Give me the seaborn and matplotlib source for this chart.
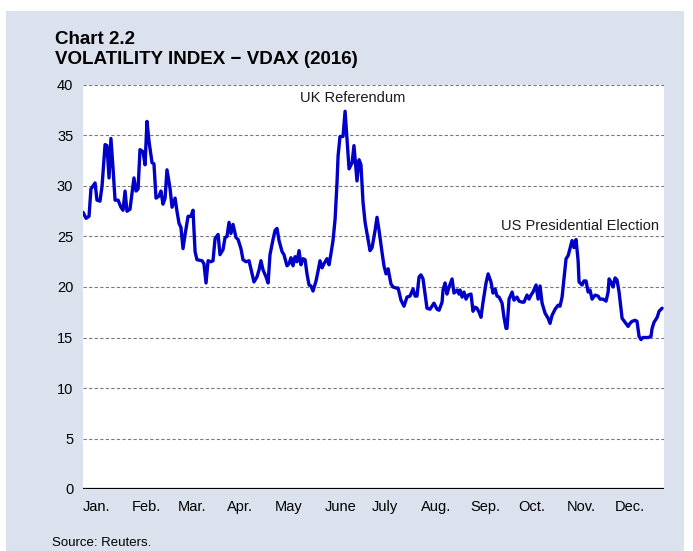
import matplotlib
matplotlib.use("Agg")
import matplotlib.pyplot as plt
import matplotlib.patches as mpatches
import seaborn as sns
import pandas as pd

# ---- data (day of year 2016, VDAX level) ----
days = [0.0, 1.9, 3.8, 5.0, 7.6, 8.8, 10.7, 12.0, 13.9, 15.1, 16.4, 17.6, 18.9, 20.2, 22.1,
        23.9, 25.2, 26.5, 27.7, 29.6, 32.1, 33.4, 34.7, 35.9, 37.8, 39.1, 40.3, 41.6, 43.5,
        44.7, 46.0, 47.9, 49.1, 50.4, 51.7, 52.9, 54.8, 56.1, 58.0, 59.2, 60.5, 61.7, 63.0,
        64.3, 66.2, 68.0, 69.3, 70.6, 71.8, 75.0, 76.2, 77.5, 78.8, 80.6, 81.9, 83.2, 85.1,
        86.3, 88.2, 89.5, 90.7, 92.0, 93.2, 94.5, 96.4, 97.7, 99.5, 100.8, 102.7, 104.6,
        106.5, 107.7, 109.6, 110.9, 112.1, 113.4, 115.3, 116.6, 117.8, 119.7, 121.0, 122.2,
        123.5, 125.4, 126.6, 128.5, 129.8, 131.0, 132.3, 133.6, 134.8, 136.1, 137.3, 138.6,
        139.9, 141.1, 142.4, 143.6, 144.9, 146.8, 148.1, 149.3, 150.6, 151.8, 153.7, 155.0,
        156.2, 157.5, 158.8, 160.0, 160.7, 161.9, 163.8, 165.1, 166.3, 167.6, 169.5, 170.7,
        172.6, 173.9, 175.1, 176.4, 177.7, 179.6, 180.8, 182.1, 184.0, 185.2, 186.5, 188.4,
        189.6, 190.9, 192.2, 194.0, 195.3, 197.2, 198.5, 200.3, 202.2, 204.1, 206.0, 207.9,
        209.2, 210.4, 211.7, 212.9, 214.2, 215.5, 216.7, 218.6, 221.1, 223.0, 224.3, 226.2,
        226.8, 228.1, 229.3, 230.6, 232.5, 233.7, 235.6, 236.9, 237.5, 238.8, 240.0, 241.3,
        242.6, 244.4, 245.7, 247.0, 248.2, 249.5, 250.7, 252.0, 253.9, 255.2, 257.0, 258.3,
        259.6, 260.8, 262.1, 264.0, 265.2, 266.5, 267.1, 268.4, 270.3, 271.5, 273.4, 274.7,
        276.6, 277.8, 279.7, 281.0, 282.2, 283.5, 285.4, 286.7, 287.9, 289.2, 291.1, 293.0,
        294.2, 295.5, 297.4, 299.3, 300.5, 301.8, 303.0, 304.3, 305.6, 306.8, 308.1, 309.3,
        310.6, 311.9, 312.5, 314.4, 315.6, 316.9, 318.2, 319.4, 320.7, 322.6, 324.5, 325.7,
        327.6, 329.5, 330.8, 331.4, 332.6, 333.9, 335.2, 336.4, 337.7, 338.9, 339.6, 341.5,
        343.4, 344.6, 345.9, 347.8, 349.0, 350.3, 351.5, 352.8, 354.7, 356.0, 357.8, 358.5,
        359.7, 361.7, 362.9, 364.8]

vdax = [27.4, 26.8, 27.0, 29.7, 30.3, 28.6, 28.5, 30.0, 34.1, 34.0, 30.8, 34.7, 31.8, 28.6, 28.6,
        27.9, 27.6, 29.5, 27.5, 27.7, 30.8, 29.5, 29.7, 33.6, 33.4, 32.1, 36.4, 34.4, 32.3,
        32.2, 28.8, 29.0, 29.5, 28.2, 28.8, 31.6, 29.8, 27.9, 28.8, 27.5, 26.3, 25.9, 23.8,
        25.2, 27.0, 27.0, 27.6, 23.5, 22.7, 22.6, 22.3, 20.4, 22.6, 22.5, 22.6, 24.8, 25.2,
        23.2, 23.7, 24.9, 25.0, 26.4, 25.3, 26.2, 24.9, 24.7, 23.8, 22.7, 22.5, 22.6,
        21.3, 20.5, 21.0, 21.7, 22.6, 21.7, 21.0, 20.4, 23.2, 24.7, 25.6, 25.8,
        24.6, 23.5, 23.2, 22.1, 22.3, 22.9, 22.1, 23.0, 22.5, 23.6, 22.2, 22.8,
        22.7, 21.3, 20.2, 20.1, 19.6, 20.6, 21.6, 22.6, 21.9, 22.3, 22.8, 22.2,
        23.3, 24.6, 26.7, 30.3, 33.0, 34.9, 34.9, 37.4, 34.6, 31.7, 32.3, 34.0,
        30.5, 32.6, 32.1, 28.4, 26.4, 24.7, 23.6, 23.9, 25.6, 26.9, 25.6, 23.4,
        22.1, 21.3, 21.8, 20.3, 20.0, 19.9, 19.9, 18.7, 18.1, 19.0, 19.1, 19.8,
        19.1, 19.1, 21.0, 21.2, 20.8, 19.3, 17.9, 17.8, 18.4, 17.8, 17.7, 18.5,
        19.7, 20.4, 19.3, 20.0, 20.8, 19.4, 19.7, 19.3, 19.7, 19.0, 19.5, 18.8,
        19.2, 19.3, 17.6, 18.0, 17.9, 17.5, 17.0, 18.5, 20.4, 21.3, 20.5, 19.4,
        19.8, 19.1, 19.0, 18.4, 17.0, 15.9, 15.9, 18.8, 19.5, 18.7, 19.0, 18.6,
        18.5, 18.5, 19.2, 18.8, 19.2, 19.5, 20.2, 18.8, 20.1, 18.4, 17.4, 16.9,
        16.4, 17.2, 17.8, 18.2, 18.1, 19.0, 20.8, 22.8, 23.1, 23.8, 24.6, 23.9,
        24.7, 22.6, 20.5, 20.2, 20.6, 20.6, 19.5, 19.7, 18.8, 19.2, 19.1, 18.8,
        18.8, 18.6, 19.5, 20.8, 20.5, 20.0, 20.9, 20.7, 19.5, 17.9, 16.9, 16.5,
        16.1, 16.4, 16.6, 16.7, 16.6, 15.1, 14.8, 15.0, 15.0, 15.0, 15.1, 15.9,
        16.5, 17.0, 17.6, 17.9]

month_labels = ["Jan.", "Feb.", "Mar.", "Apr.", "May", "June", "July", "Aug.",
                "Sep.", "Oct.", "Nov.", "Dec."]
month_days = [31, 29, 31, 30, 31, 30, 31, 31, 30, 31, 30, 31]
y_ticks = [0, 5, 10, 15, 20, 25, 30, 35, 40]

title_1 = "Chart 2.2"
title_2 = "VOLATILITY INDEX \u2212 VDAX (2016)"
source = "Source: Reuters."
annotations = [("UK Referendum", 136.7, 38.7), ("US Presidential Election", 263.3, 26.0)]

# ---- styling ----
sns.set_style("white")
plt.rcParams["font.family"] = ["Liberation Sans", "DejaVu Sans"]

BG = "#dbe2ee"
LINE = "#0000c8"

W, H = 693, 551
fig = plt.figure(figsize=(W / 100, H / 100), dpi=100)
fig.patch.set_facecolor("white")
fig.patches.append(mpatches.Rectangle((6 / W, 0), (684 - 6) / W, 1 - 11 / H,
                                      transform=fig.transFigure, facecolor=BG,
                                      edgecolor="none", zorder=-10))

ax = fig.add_axes([83 / W, (H - 489) / H, (664 - 83) / W, (489 - 85) / H])
ax.set_facecolor("white")

df = pd.DataFrame({"day": days, "vdax": vdax})
sns.lineplot(data=df, x="day", y="vdax", ax=ax, color=LINE, linewidth=2.4, zorder=5)

ax.set_xlim(0, 366)
ax.set_ylim(0, 40)
ax.set_xlabel("")
ax.set_ylabel("")

# grid
for yv in y_ticks[1:]:
    ax.axhline(yv, color="#7a7a7a", linewidth=0.8, linestyle=(0, (3, 2)), zorder=1)
ax.axhline(0, color="black", linewidth=1.6, zorder=6)
for s in ax.spines.values():
    s.set_visible(False)

ax.set_yticks(y_ticks)
ax.set_yticklabels([str(v) for v in y_ticks], fontsize=10.5)
starts = []
acc = 0
for d in month_days:
    starts.append(acc)
    acc += d
ax.set_xticks(starts)
ax.set_xticklabels(month_labels, fontsize=10.5, ha="left")
ax.tick_params(axis="both", length=0, labelcolor="black")
ax.tick_params(axis="y", pad=7)
ax.tick_params(axis="x", pad=8)

for text, x, y in annotations:
    ax.text(x, y, text, fontsize=10.5, ha="left", va="center", color="#1a1a1a")

fig.text(55 / W, 1 - 44 / H, title_1, fontsize=13.5, fontweight="bold", ha="left",
         va="baseline", color="black")
fig.text(55 / W, 1 - 64 / H, title_2, fontsize=13.5, fontweight="bold", ha="left",
         va="baseline", color="black")
fig.text(52 / W, 1 - 543 / H, source, fontsize=9.5, ha="left", va="center", color="black")

fig.savefig("out.png", dpi=100, facecolor=fig.get_facecolor())
